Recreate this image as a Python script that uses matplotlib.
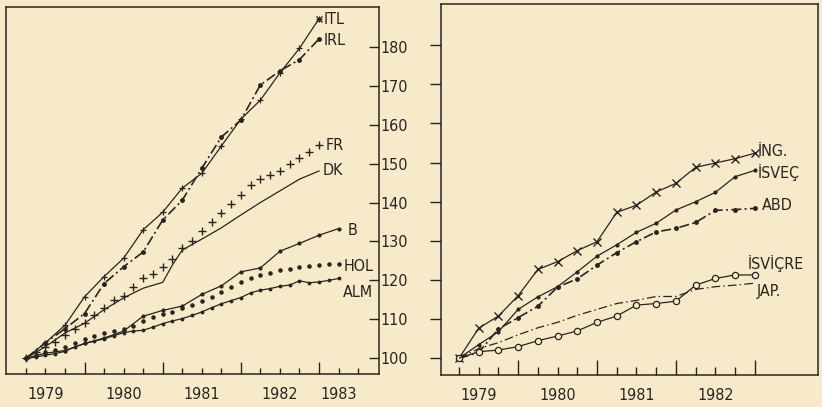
import numpy as np
import matplotlib
matplotlib.use("Agg")
import matplotlib.pyplot as plt
from matplotlib import font_manager as fm

# ---------------- data ----------------
# left panel: quarterly index 0..15/16, some series at half-quarter steps
q16 = np.arange(16)
q17 = np.arange(17)
h31 = np.arange(31) / 2.0
h33 = np.arange(33) / 2.0

ITL = [100, 104, 108.5, 115.8, 121, 125.7, 133, 137.5, 143.7, 147.5, 154.5, 161.4, 166.3, 173.3, 179.6, 187.2]
IRL = [100, 104, 107.6, 111.5, 119.2, 123.5, 127.3, 135.5, 140.6, 148.8, 156.8, 161.2, 170.2, 173.8, 176.7, 182]
FR = [100, 101.5, 103, 104.3, 106, 107.5, 109, 111, 113, 115, 116, 118.3, 120.5, 121.6, 123.5, 125.6,
      128.2, 130.2, 132.6, 135, 137.4, 139.6, 141.9, 144.5, 146, 147, 148, 149.8, 151.5, 153, 154.8]
DK_x = [0, 1, 2, 3, 4, 5, 6, 7, 7.5, 8, 9, 10, 11, 12, 13, 14, 15]
DK = [100, 103, 106.5, 109, 112.5, 115.5, 118, 119.5, 124, 127.8, 130.6, 133.5, 136.8, 140, 143, 146, 148.1]
B = [100, 101.3, 102, 103.8, 105.2, 107, 110.8, 112.3, 113.4, 116.4, 118.6, 122.2, 123.2, 127.5, 129.5, 131.6, 133.3]
HOL = [100, 100.8, 101.5, 102.2, 103, 104, 105, 105.8, 106.5, 107, 107.5, 108.3, 109.5, 110.5, 111.3, 112,
       112.8, 113.8, 114.8, 115.8, 117, 118.4, 119.6, 120.7, 121.3, 121.9, 122.6, 123, 123.5, 123.6, 123.9, 124.1, 124.2]
ALM = [100, 100.3, 100.8, 101.2, 101.8, 102.9, 103.8, 104.4, 105, 105.8, 106.6, 107, 107.2, 108, 108.9, 109.6,
       110.2, 111, 111.9, 113, 114, 114.8, 115.6, 116.8, 117.5, 117.9, 118.5, 118.8, 119.9, 119.4, 119.6, 120, 120.5]

# right panel: quarterly index 0..15
ING = [100, 107.7, 110.8, 116, 122.7, 124.7, 127.5, 129.8, 137.3, 139.1, 142.5, 144.7, 148.8, 149.9, 151, 152.4]
ISVEC = [100, 103.5, 106.8, 112.5, 115.7, 118.3, 122.1, 126.1, 129, 132.2, 134.5, 137.9, 140, 142.4, 146.4, 148]
ABD = [100, 101.5, 107.5, 110.4, 113.3, 118.2, 120.3, 123.8, 127, 129.8, 132.3, 133.2, 134.7, 137.8, 138, 138.3]
ISVICRE = [100, 101.7, 102.1, 103, 104.5, 105.7, 107, 109.2, 110.8, 113.6, 114, 114.6, 118.7, 120.4, 121.3, 121.3]
JAP = [100, 102.5, 104, 106, 107.8, 109.2, 111, 112.5, 114, 114.8, 115.8, 115.8, 117.6, 118.3, 118.7, 119.2]

yticks = [100, 110, 120, 130, 140, 150, 160, 170, 180]
years_left = ["1979", "1980", "1981", "1982", "1983"]
years_left_pos = [1, 5, 9, 13, 16]
years_right = ["1979", "1980", "1981", "1982"]
years_right_pos = [1, 5, 9, 13]
major_pos = [3, 7, 11, 15]

# ---------------- style ----------------
names = {f.name for f in fm.fontManager.ttflist}
if "Liberation Sans Narrow" in names:
    FONT = dict(family="Liberation Sans Narrow")
    FS = 14
else:
    FONT = dict(family="DejaVu Sans", stretch="condensed")
    FS = 11.5
plt.rcParams["font.family"] = FONT["family"]
if "stretch" in FONT:
    plt.rcParams["font.stretch"] = FONT["stretch"]

BG = "#f7eacb"
INK = "#2a2420"
LW = 0.9

fig = plt.figure(figsize=(8.22, 4.07), dpi=100, facecolor=BG)
axL = fig.add_axes([0.0073, 0.0811, 0.4538, 0.9017], facecolor=BG)
axR = fig.add_axes([0.5365, 0.0786, 0.4586, 0.9115], facecolor=BG)

axL.set_xlim(-1.02, 18.07)
axL.set_ylim(95.97, 190.2)
axR.set_xlim(-0.91, 18.2)
axR.set_ylim(95.74, 190.5)

for ax in (axL, axR):
    for s in ax.spines.values():
        s.set_color(INK)
        s.set_linewidth(1.1)

# ---- left panel series ----
axL.plot(q16, ITL, color=INK, lw=LW, marker="+", ms=5, mew=0.9)
axL.plot(q16[-1:], ITL[-1:], color=INK, lw=0, marker="x", ms=5, mew=1)
axL.plot(q16, IRL, color=INK, lw=1.2, dashes=(6, 2, 1.2, 2), marker=".", ms=5)
axL.plot(h31, FR, color=INK, lw=0, marker="+", ms=5.5, mew=1.0)
axL.plot(DK_x, DK, color=INK, lw=LW)
axL.plot(q17, B, color=INK, lw=LW, marker=".", ms=4)
axL.plot(h33, HOL, color=INK, lw=0, marker=".", ms=4.5)
axL.plot(h33, ALM, color=INK, lw=LW, marker=".", ms=3.5)

def lab(ax, x, y, t, dx, dy):
    ax.annotate(t, xy=(x, y), xytext=(dx / 1.389, dy / 1.389), textcoords="offset points",
                ha="left", va="center", fontsize=FS, color=INK, annotation_clip=False)

lab(axL, q16[-1], ITL[-1], "ITL", 5, -1)
lab(axL, q16[-1], IRL[-1], "IRL", 5, -2)
lab(axL, h31[-1], FR[-1], "FR", 7, -1)
lab(axL, DK_x[-1], DK[-1], "DK", 4, 0)
lab(axL, q17[-1], B[-1], "B", 9, -2)
lab(axL, h33[-1], HOL[-1], "HOL", 5, -2)
lab(axL, h33[-1], ALM[-1], "ALM", 4, -14)

# ---- right panel series ----
axR.plot(q16, ING, color=INK, lw=LW, marker="x", ms=5.5, mew=1)
axR.plot(q16, ISVEC, color=INK, lw=LW, marker=".", ms=4)
axR.plot(q16, ABD, color=INK, lw=1.2, dashes=(6, 2, 1.2, 2), marker=".", ms=5)
axR.plot(q16, ISVICRE, color=INK, lw=LW, marker="o", ms=4.5, mfc=BG, mew=0.9)
axR.plot(q16, JAP, color=INK, lw=LW, dashes=(7, 2.5, 1.2, 2.5))

lab(axR, q16[-1], ING[-1], "İNG.", 3, 2)
lab(axR, q16[-1], ISVEC[-1], "İSVEÇ", 3, -2)
lab(axR, q16[-1], ABD[-1], "ABD", 7, 3)
lab(axR, q16[-1], ISVICRE[-1], "İSVİÇRE", -7, 11)
lab(axR, q16[-1], JAP[-1], "JAP.", 2, -8)

# ---- axes ticks ----
def xaxis(ax, n, ypos, ylabels):
    minor = [i for i in range(n) if i not in major_pos]
    labels = [ylabels[ypos.index(i)] if i in ypos else "" for i in minor]
    ax.set_xticks(major_pos)
    ax.set_xticklabels([])
    ax.set_xticks(minor, labels=labels, minor=True)
    ax.tick_params(axis="x", which="major", direction="in", length=9, width=1, color=INK)
    ax.tick_params(axis="x", which="minor", direction="in", length=4, width=1, color=INK,
                   pad=9.5, labelsize=FS, labelcolor=INK)

xaxis(axL, 18, years_left_pos, years_left)
xaxis(axR, 16, years_right_pos, years_right)
axR.tick_params(axis="x", which="major", length=11)
axR.tick_params(axis="x", which="minor", length=5.5)

axL.yaxis.tick_right()
axL.set_yticks(yticks)
axL.set_yticklabels([str(v) for v in yticks])
axL.tick_params(axis="y", direction="in", length=7, width=1, color=INK, pad=1,
                labelsize=FS, labelcolor=INK)

axR.set_yticks(yticks)
axR.tick_params(axis="y", direction="out", length=8, width=1, color=INK, labelleft=False)

fig.savefig("out.png", dpi=100, facecolor=BG)
